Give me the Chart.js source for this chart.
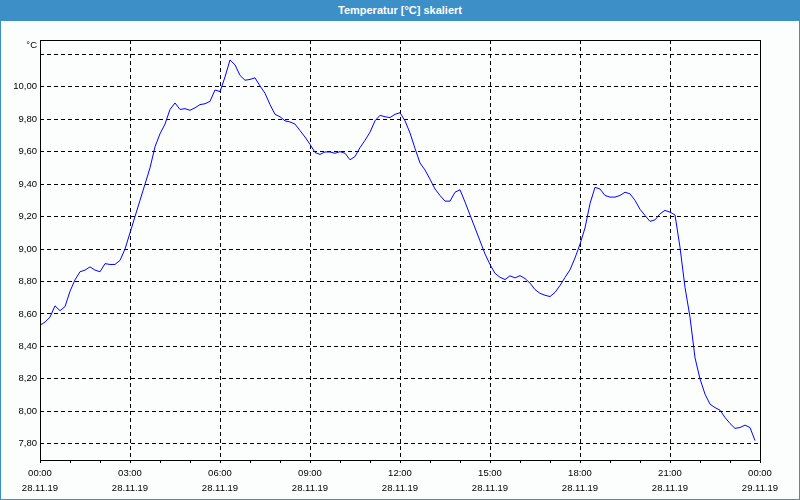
<!DOCTYPE html>
<html>
<head>
<meta charset="utf-8">
<script src="https://cdn.jsdelivr.net/npm/chart.js@4"></script>
<style>
  body { margin:0; background:#fff; }
  #frame { position:relative; width:800px; height:500px; box-sizing:border-box; background:#fcfdfd;
           border:1px solid #3c8fc7; border-top:none; font-family:"Liberation Sans", Arial, sans-serif; }
  #title { height:21px; line-height:20px; background:#3c8fc7; color:#fff; font-weight:bold; font-size:11px;
           text-align:center; margin:0 -1px; }
  #box { position:absolute; left:0; top:21px; width:798px; height:478px; }
</style>
</head>
<body>
<div id="frame">
  <div id="title">Temperatur [°C] skaliert</div>
  <div id="box"><canvas id="chart"></canvas></div>
</div>
<script>
/* ── DATA ── */
// one reading every 10 minutes, 28.11.19 00:00 .. 23:50
const stepHours = 1 / 6;
const temps = [
  8.53, 8.55, 8.58, 8.65, 8.62, 8.645, 8.74, 8.81, 8.86, 8.87, 8.89, 8.87,
  8.86, 8.91, 8.905, 8.905, 8.93, 9.00, 9.10, 9.20, 9.30, 9.40, 9.50, 9.63,
  9.71, 9.77, 9.86, 9.90, 9.86, 9.865, 9.855, 9.87, 9.89, 9.895, 9.91, 9.98,
  9.97, 10.06, 10.165, 10.135, 10.07, 10.04, 10.045, 10.055, 10.005, 9.96, 9.89, 9.83,
  9.815, 9.79, 9.783, 9.77, 9.73, 9.69, 9.645, 9.595, 9.583, 9.598, 9.598, 9.59,
  9.60, 9.59, 9.55, 9.57, 9.625, 9.67, 9.72, 9.79, 9.824, 9.815, 9.81, 9.83,
  9.84, 9.79, 9.715, 9.62, 9.53, 9.487, 9.43, 9.37, 9.33, 9.295, 9.295, 9.35,
  9.365, 9.29, 9.21, 9.13, 9.05, 8.97, 8.905, 8.85, 8.826, 8.812, 8.835, 8.822,
  8.836, 8.818, 8.79, 8.75, 8.727, 8.715, 8.707, 8.733, 8.775, 8.825, 8.872, 8.945,
  9.03, 9.13, 9.28, 9.38, 9.37, 9.33, 9.32, 9.32, 9.33, 9.35, 9.34, 9.30,
  9.245, 9.207, 9.17, 9.18, 9.217, 9.238, 9.227, 9.21, 9.01, 8.764, 8.58, 8.33,
  8.20, 8.106, 8.044, 8.023, 8.007, 7.962, 7.925, 7.895, 7.90, 7.915, 7.90, 7.82
];

const xTickHours = [0,1,2,3,4,5,6,7,8,9,10,11,12,13,14,15,16,17,18,19,20,21,22,23,24];
const xLabelHours = [0, 3, 6, 9, 12, 15, 18, 21, 24];
const xLabelTimes = ["00:00","03:00","06:00","09:00","12:00","15:00","18:00","21:00","00:00"];
const xLabelDates = ["28.11.19","28.11.19","28.11.19","28.11.19","28.11.19","28.11.19","28.11.19","28.11.19","29.11.19"];
const yTicks = [7.8, 8.0, 8.2, 8.4, 8.6, 8.8, 9.0, 9.2, 9.4, 9.6, 9.8, 10.0, 10.2];
const yMin = 7.70, yMax = 10.288;
const unitLabel = "°C";

const FONT = "'Liberation Sans', Arial, sans-serif";

/* ── FRAME + UNIT ── */
const framePlugin = {
  id: "frame",
  afterDraw(chart) {
    const { ctx, chartArea: a } = chart;
    ctx.save();
    ctx.strokeStyle = "#000"; ctx.lineWidth = 1;
    ctx.strokeRect(a.left + 0.5, a.top + 0.5, a.right - a.left, a.bottom - a.top);
    ctx.fillStyle = "#000"; ctx.font = "9.5px " + FONT;
    ctx.textAlign = "right"; ctx.textBaseline = "middle";
    ctx.fillText(unitLabel, a.left - 3, a.top + 5);
    ctx.restore();
  }
};

new Chart(document.getElementById("chart"), {
  type: "line",
  data: {
    datasets: [{
      data: temps.map((v, i) => ({ x: i * stepHours, y: v })),
      borderColor: "#0000ff", borderWidth: 1, pointRadius: 0, tension: 0, fill: false
    }]
  },
  options: {
    responsive: true, maintainAspectRatio: false, animation: false,
    layout: { padding: { left: 0, top: 19, right: 39, bottom: 0 } },
    plugins: { legend: { display: false }, tooltip: { enabled: false } },
    scales: {
      x: {
        type: "linear", min: 0, max: 24,
        afterBuildTicks: s => { s.ticks = xTickHours.map(v => ({ value: v })); },
        afterFit: s => { s.height = 39; },
        grid: {
          color: c => xLabelHours.includes(c.tick?.value) ? "#000" : "transparent",
          tickColor: "#000", tickLength: 3, lineWidth: 1
        },
        border: { display: false, dash: [4, 3] },
        ticks: {
          autoSkip: false, maxRotation: 0, padding: 3, color: "#000",
          font: { family: FONT, size: 9.5, lineHeight: 1.6 },
          callback: v => {
            const i = xLabelHours.indexOf(v);
            return i < 0 ? "" : [xLabelTimes[i], xLabelDates[i]];
          }
        }
      },
      y: {
        min: yMin, max: yMax,
        afterBuildTicks: s => { s.ticks = yTicks.map(v => ({ value: v })); },
        afterFit: s => { s.width = 39; },
        grid: { color: "#000", drawTicks: false, lineWidth: 1 },
        border: { display: false, dash: [4, 3] },
        ticks: {
          padding: 3, color: "#000", font: { family: FONT, size: 9.5 },
          callback: v => v > 10.1 ? "" : v.toFixed(2).replace(".", ",")
        }
      }
    }
  },
  plugins: [framePlugin]
});
</script>
</body>
</html>
